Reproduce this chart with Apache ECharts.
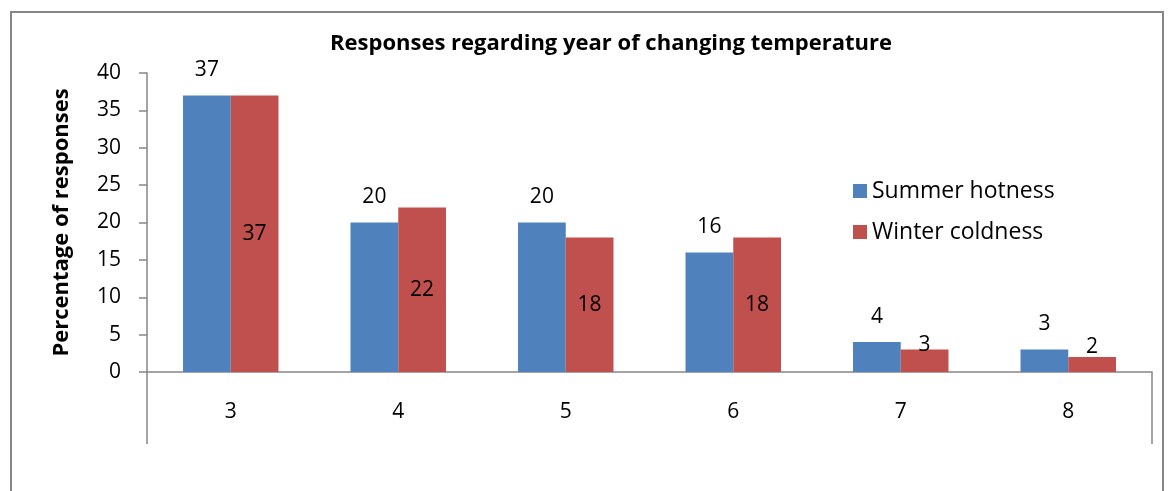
<!DOCTYPE html>
<html><head><meta charset="utf-8">
<script src="https://cdn.jsdelivr.net/npm/echarts@6/dist/echarts.min.js"></script>
<style>html,body{margin:0;padding:0;background:#fff}#c{width:1173px;height:491px}</style>
</head><body><div id="c"></div>
<script>
const categories = ['3', '4', '5', '6', '7', '8'];
const summerHotness = [37, 20, 20, 16, 4, 3];
const winterColdness = [37, 22, 18, 18, 3, 2];
const yTicks = [0, 5, 10, 15, 20, 25, 30, 35, 40];

const FONT = '"Open Sans", "Noto Sans", sans-serif';
const chart = echarts.init(document.getElementById('c'));
const gridL = 147, gridR = 21, gridT = 73, gridB = 119;

// small winter bars: label sits just above the bar instead of centre
const winterData = winterColdness.map(v => {
  if (v < 5) return {value: v, label: {position: 'top', distance: v < 3 ? 0 : -6}};
  return v;
});

chart.setOption({
  animation: false,
  backgroundColor: '#fff',
  graphic: [{
    type: 'rect', shape: {x: 11, y: 12, width: 1152, height: 500},
    style: {fill: null, stroke: '#868686', lineWidth: 2}, silent: true, z: -1
  }],
  title: {
    text: 'Responses regarding year of changing temperature',
    left: 611, top: 32, textAlign: 'center', padding: 0,
    textStyle: {fontFamily: FONT, fontWeight: 'bold', fontSize: 22, lineHeight: 24, color: '#000'}
  },
  legend: {
    orient: 'vertical', left: 848, top: 174, itemWidth: 14, itemHeight: 14, itemGap: 17,
    icon: 'rect',
    textStyle: {fontFamily: FONT, fontSize: 23, lineHeight: 24, color: '#000', padding: [0, 0, 0, 0]},
    data: ['Summer hotness', 'Winter coldness']
  },
  grid: {left: gridL, right: gridR, top: gridT, bottom: gridB, containLabel: false},
  xAxis: {
    type: 'category', data: categories,
    axisLine: {lineStyle: {color: '#868686', width: 1.5}},
    axisTick: {show: true, length: 72, interval: (i) => i === 0, lineStyle: {color: '#868686', width: 1.5}},
    axisLabel: {fontFamily: FONT, fontSize: 21, color: '#000', margin: 30}
  },
  yAxis: {
    type: 'value', min: yTicks[0], max: yTicks[yTicks.length - 1], interval: 5,
    name: 'Percentage of responses', nameLocation: 'middle', nameGap: 74, nameRotate: 90,
    nameTextStyle: {fontFamily: FONT, fontWeight: 'bold', fontSize: 22, color: '#000'},
    axisLine: {show: true, lineStyle: {color: '#868686', width: 1.5}},
    axisTick: {show: true, length: 8, lineStyle: {color: '#868686', width: 1.5}},
    axisLabel: {fontFamily: FONT, fontSize: 21, color: '#000', margin: 26},
    splitLine: {show: false}
  },
  series: [{
    name: 'Summer hotness', type: 'bar', data: summerHotness,
    barGap: '0%', barCategoryGap: '43%',
    itemStyle: {color: '#4F81BD'},
    label: {show: true, position: 'top', distance: 15, fontFamily: FONT, fontSize: 21, color: '#000'}
  }, {
    name: 'Winter coldness', type: 'bar', data: winterData,
    barGap: '0%', barCategoryGap: '43%',
    itemStyle: {color: '#C0504D'},
    label: {show: true, position: 'inside', fontFamily: FONT, fontSize: 21, color: '#000'}
  }]
});
</script></body></html>
